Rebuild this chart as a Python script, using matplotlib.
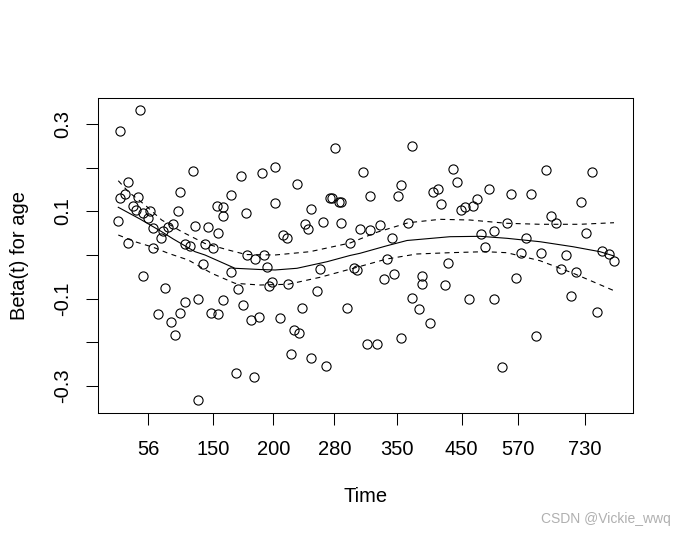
import matplotlib
matplotlib.use("Agg")
import matplotlib.pyplot as plt
import numpy as np

plt.rcParams['font.family'] = ['Liberation Sans', 'DejaVu Sans']

# Transformed time (KM scale, 0..1) and scaled Schoenfeld residuals for age
time_u = [0.0780, 0.0406, 0.1778, 0.0561, 0.2670, 0.3069, 0.3307, 0.0500, 0.0406, 0.0749,
          0.1529, 0.2483, 0.3307, 0.0655, 0.0700, 0.0842, 0.0967, 0.0936, 0.1497, 0.2216,
          0.2339, 0.2339, 0.2764, 0.0374, 0.1029, 0.1403, 0.1310, 0.1216, 0.1810, 0.2058,
          0.2246, 0.1168, 0.0561, 0.1029, 0.1622, 0.1716, 0.1997, 0.2152, 0.2777, 0.3106,
          0.2932, 0.1965, 0.3163, 0.2483, 0.0842, 0.3256, 0.3200, 0.2620, 0.1248, 0.1622,
          0.1871, 0.2339, 0.2713, 0.1123, 0.1529, 0.2109, 0.2246, 0.2857, 0.3007, 0.1355,
          0.1435, 0.2582, 0.2919, 0.1871, 0.4435, 0.5876, 0.3724, 0.4959, 0.5664, 0.4336,
          0.4368, 0.4510, 0.4536, 0.5084, 0.5614, 0.6269, 0.6351, 0.6413, 0.3986, 0.3868,
          0.3930, 0.4210, 0.4547, 0.4897, 0.5084, 0.5271, 0.3462, 0.3526, 0.5801, 0.5490,
          0.4710, 0.3555, 0.4149, 0.4790, 0.4847, 0.5397, 0.6550, 0.5346, 0.5539, 0.6063,
          0.6063, 0.6488, 0.4098, 0.3400, 0.3817, 0.4660, 0.5876, 0.6007, 0.6207, 0.3662,
          0.3761, 0.3606, 0.3980, 0.4267, 0.5034, 0.5221, 0.5670, 0.6643, 0.6718, 0.7317,
          0.7723, 0.8097, 0.8378, 0.9244, 0.7092, 0.7017, 0.6868, 0.6793, 0.9038, 0.8477,
          0.8570, 0.7654, 0.7167, 0.7405, 0.8003, 0.9126, 0.7236, 0.7916, 0.8284, 0.8752,
          0.9426, 0.9551, 0.9650, 0.6942, 0.7410, 0.7816, 0.8658, 0.8939, 0.8851, 0.9332,
          0.8191, 0.7554]
beta_resid = [0.3321, 0.2846, 0.1921, 0.1682, 0.1813, 0.1875, 0.2020, 0.1400, 0.1301, 0.1324,
              0.1439, 0.1377, 0.1193, 0.1125, 0.1033, 0.0971, 0.1017, 0.0842, 0.1003, 0.1125,
              0.1095, 0.0895, 0.0964, 0.0780, 0.0613, 0.0705, 0.0636, 0.0551, 0.0659, 0.0643,
              0.0498, 0.0383, 0.0282, 0.0154, 0.0252, 0.0207, 0.0252, 0.0168, 0.0000, 0.0000,
              -0.0092, -0.0207, -0.0269, -0.0390, -0.0482, -0.0620, -0.0712, -0.0787, -0.0764, -0.1079,
              -0.1017, -0.1033, -0.1148, -0.1354, -0.1331, -0.1331, -0.1354, -0.1492, -0.1430, -0.1538,
              -0.1843, -0.2715, -0.2800, -0.3328, 0.2456, 0.2502, 0.1630, 0.1905, 0.1607, 0.1308,
              0.1308, 0.1216, 0.1216, 0.1354, 0.1354, 0.1446, 0.1515, 0.1171, 0.1049, 0.0712,
              0.0597, 0.0757, 0.0741, 0.0597, 0.0567, 0.0689, 0.0466, 0.0383, 0.0741, 0.0383,
              0.0275, -0.0672, -0.0321, -0.0305, -0.0351, -0.0092, -0.0177, -0.0558, -0.0436, -0.0482,
              -0.0672, -0.0689, -0.0826, -0.1446, -0.1223, -0.1223, -0.0994, -0.1246, -0.1561, -0.1721,
              -0.1797, -0.2279, -0.2364, -0.2548, -0.2050, -0.2050, -0.1912, 0.1974, 0.1669, 0.1508,
              0.1400, 0.1400, 0.1944, 0.1898, 0.1278, 0.1125, 0.1095, 0.1026, 0.1210, 0.0895,
              0.0734, 0.0728, 0.0482, 0.0551, 0.0383, 0.0505, 0.0177, 0.0057, 0.0046, -0.0011,
              0.0087, 0.0028, -0.0145, -0.1017, -0.1017, -0.0535, -0.0328, -0.0397, -0.0948, -0.1308,
              -0.1866, -0.2577]

# Smoothed beta(t) and +/- 2 SE bands
fit_u = [0.0374, 0.0780, 0.1186, 0.1403, 0.1810, 0.1997, 0.2558, 0.3026, 0.3307, 0.3718,
         0.4280, 0.4710, 0.4897, 0.5402, 0.5777, 0.6581, 0.7143, 0.7648, 0.8265, 0.8883,
         0.9388, 0.9650]
fit_beta = [0.1095, 0.0826, 0.0535, 0.0367, 0.0076, 0.0000, -0.0305, -0.0333, -0.0344, -0.0305,
            -0.0154, -0.0011, 0.0039, 0.0213, 0.0333, 0.0420, 0.0429, 0.0383, 0.0305, 0.0190,
            0.0076, -0.0023]
upper_u = [0.0374, 0.0561, 0.0874, 0.1186, 0.1561, 0.1997, 0.2433, 0.2764, 0.3307, 0.3961,
           0.4710, 0.5210, 0.5801, 0.6394, 0.6956, 0.7643, 0.8265, 0.9014, 0.9650]
upper_beta = [0.1705, 0.1453, 0.1148, 0.0803, 0.0535, 0.0264, 0.0115, 0.0011, 0.0000, 0.0076,
              0.0275, 0.0521, 0.0741, 0.0819, 0.0803, 0.0728, 0.0705, 0.0705, 0.0741]
lower_u = [0.0374, 0.0687, 0.1029, 0.1310, 0.1684, 0.2122, 0.2558, 0.3026, 0.3555, 0.4149,
           0.4772, 0.5397, 0.5958, 0.6581, 0.7236, 0.7643, 0.8265, 0.8889, 0.9650]
lower_beta = [0.0459, 0.0305, 0.0177, 0.0039, -0.0115, -0.0420, -0.0650, -0.0689, -0.0672, -0.0512,
              -0.0305, -0.0092, 0.0023, 0.0053, 0.0076, 0.0053, -0.0131, -0.0420, -0.0819]

xtick_pos = [0.0936, 0.2152, 0.3275, 0.4416, 0.5595, 0.6800, 0.7860, 0.9110]
xtick_labels = ['56', '150', '200', '280', '350', '450', '570', '730']
ytick_vals = [-0.3, -0.2, -0.1, 0.0, 0.1, 0.2, 0.3]
ytick_labels = ['-0.3', '', '-0.1', '', '0.1', '', '0.3']

fig = plt.figure(figsize=(6.85, 5.35), dpi=100)
ax = fig.add_axes([98.3 / 685, 1 - 412.7 / 535, 534.4 / 685, 314.4 / 535])

ax.plot(time_u, beta_resid, linestyle='none', marker='o', markersize=6.6,
        markerfacecolor='none', markeredgecolor='black', markeredgewidth=0.8)
ax.plot(fit_u, fit_beta, color='black', linewidth=0.8)
l1, = ax.plot(upper_u, upper_beta, color='black', linewidth=0.8)
l2, = ax.plot(lower_u, lower_beta, color='black', linewidth=0.8)
for l in (l1, l2):
    l.set_dashes((4.5, 4))

ax.set_xlim(0.0, 1.0)
ax.set_ylim(-0.362, 0.3597)

ax.set_xticks(xtick_pos)
ax.set_xticklabels(xtick_labels, fontsize=14.5)
ax.set_yticks(ytick_vals)
ax.set_yticklabels(ytick_labels, fontsize=14.5, rotation=90, va='center', ha='right')

ax.tick_params(axis='both', direction='out', length=8.5, width=0.75, color='black')
ax.tick_params(axis='x', pad=11)
ax.tick_params(axis='y', pad=10)
for s in ax.spines.values():
    s.set_linewidth(0.75)

ax.set_xlabel('Time', fontsize=14.5, labelpad=20.5)
ax.set_ylabel('Beta(t) for age', fontsize=14.5, labelpad=18)

fig.text(670.7 / 685, 1 - 523 / 535, 'CSDN @Vickie_wwq', fontsize=10, color='#b0b0b0',
         ha='right', va='baseline')

fig.savefig('out.png', dpi=100)
